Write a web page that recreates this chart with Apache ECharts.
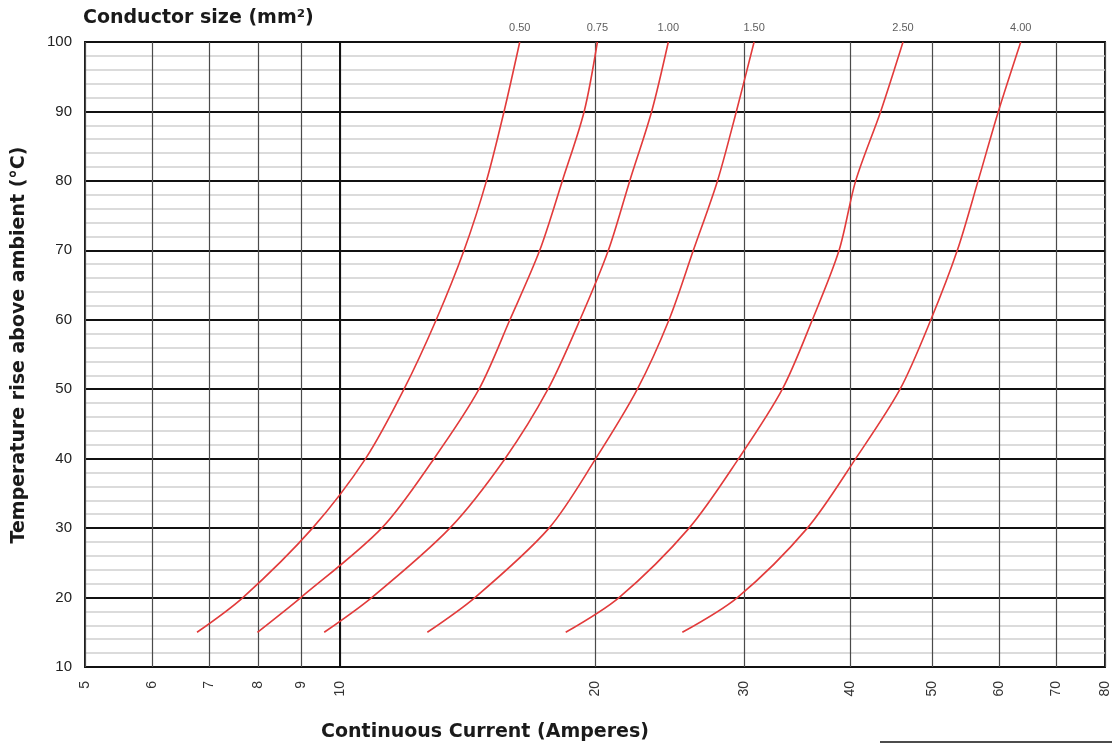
<!DOCTYPE html>
<html>
<head>
<meta charset="utf-8">
<script src="https://cdn.jsdelivr.net/npm/echarts@6/dist/echarts.min.js"></script>
<style>
html,body{margin:0;padding:0;background:#fff;}
#c{width:1112px;height:745px;}
</style>
</head>
<body>
<div id="c"></div>
<script>
// Temperature rise (°C) points shared by all curves
const temps = [15, 20, 30, 40, 50, 60, 70, 80, 90, 100];
// Conductor sizes (mm²)
const sizes = ['0.50', '0.75', '1.00', '1.50', '2.50', '4.00'];
// Continuous current (A) at each temperature for each conductor size
const amps050 = [6.78, 7.68, 9.28, 10.72, 11.90, 12.99, 14.01, 14.89, 15.62, 16.30];
const amps075 = [7.99, 8.99, 11.20, 12.91, 14.59, 15.87, 17.21, 18.30, 19.42, 20.13];
const amps100 = [9.58, 10.90, 13.48, 15.66, 17.60, 19.20, 20.74, 21.98, 23.33, 24.41];
const amps150 = [12.68, 14.43, 17.65, 20.04, 22.44, 24.46, 26.13, 27.90, 29.37, 30.82];
const amps250 = [18.47, 21.35, 25.83, 29.55, 33.28, 36.11, 38.83, 40.62, 43.48, 46.20];
const amps400 = [25.36, 29.45, 35.62, 40.62, 45.83, 49.83, 53.55, 56.66, 59.87, 63.63];
const ampsList = [amps050, amps075, amps100, amps150, amps250, amps400];
// Axis ticks
const xTicks = [5, 6, 7, 8, 9, 10, 20, 30, 40, 50, 60, 70, 80];
const yMin = 10, yMax = 100, yStep = 10;

const chart = echarts.init(document.getElementById('c'), null, {renderer: 'canvas'});

const lastIdx = temps.length - 1;
const series = sizes.map((s, k) => ({
  name: s,
  type: 'line',
  smooth: 0.3,
  symbol: 'none',
  showSymbol: false,
  lineStyle: {color: '#e23b3b', width: 1.6},
  z: 5,
  data: temps.map((t, i) => [ampsList[k][i], t]),
  markLine: k === 0 ? {
    silent: true, symbol: 'none', animation: false,
    label: {show: false},
    lineStyle: {color: '#111', width: 2, type: 'solid'},
    data: [{xAxis: 10}]
  } : undefined
}));

// Size labels placed at the top end of each curve
series.push({
  name: 'sizeLabels',
  type: 'scatter',
  clip: false,
  silent: true,
  symbol: 'rect',
  symbolSize: 2,
  itemStyle: {color: 'rgba(0,0,0,0)'},
  z: 6,
  label: {show: true, position: 'top', distance: 8, formatter: p => p.name,
    fontSize: 11, color: '#333', fontFamily: 'Liberation Sans, Arial, sans-serif'},
  data: sizes.map((s, k) => ({name: s, value: [ampsList[k][lastIdx], temps[lastIdx]]}))
});

const nameFont = 'DejaVu Sans, sans-serif';

chart.setOption({
  animation: false,
  backgroundColor: '#fff',
  grid: {left: 85, right: 6, top: 42, bottom: 78, show: true,
    borderColor: '#1a1a1a', borderWidth: 2, backgroundColor: 'transparent'},
  xAxis: {
    type: 'log', logBase: 10, min: 5, max: 80,
    axisLine: {show: false},
    axisTick: {show: false, customValues: xTicks},
    axisLabel: {customValues: xTicks, rotate: 90, margin: 14, fontSize: 14, color: '#333',
      fontFamily: 'Liberation Sans, Arial, sans-serif'},
    splitLine: {show: true, lineStyle: {color: '#4a4a4a', width: 1.2}},
    minorSplitLine: {show: false}
  },
  yAxis: {
    type: 'value', min: yMin, max: yMax, interval: yStep,
    axisLine: {show: false},
    axisTick: {show: false},
    axisLabel: {margin: 13, fontSize: 15, color: '#222', fontFamily: 'Liberation Sans, Arial, sans-serif'},
    splitLine: {show: true, lineStyle: {color: '#111', width: 2}},
    minorTick: {show: false, splitNumber: 5},
    minorSplitLine: {show: true, lineStyle: {color: '#cfcfcf', width: 1.5}}
  },
  graphic: [
    {type: 'text', left: 83, top: 9, z: 10,
      style: {text: 'Conductor size (mm²)', font: 'bold 19px ' + nameFont, fill: '#1a1a1a'}},
    {type: 'text', x: 485, y: 732, z: 10,
      style: {text: 'Continuous Current (Amperes)', font: 'bold 19px ' + nameFont, fill: '#1a1a1a',
        textAlign: 'center', textVerticalAlign: 'middle'}},
    {type: 'text', x: 19, y: 345, rotation: Math.PI / 2, z: 10,
      style: {text: 'Temperature rise above ambient (°C)', font: 'bold 19px ' + nameFont, fill: '#1a1a1a',
        textAlign: 'center', textVerticalAlign: 'middle'}},
    {type: 'line', shape: {x1: 880, y1: 742, x2: 1112, y2: 742}, style: {stroke: '#111', lineWidth: 1.5}}
  ],
  series: series
});
</script>
</body>
</html>
